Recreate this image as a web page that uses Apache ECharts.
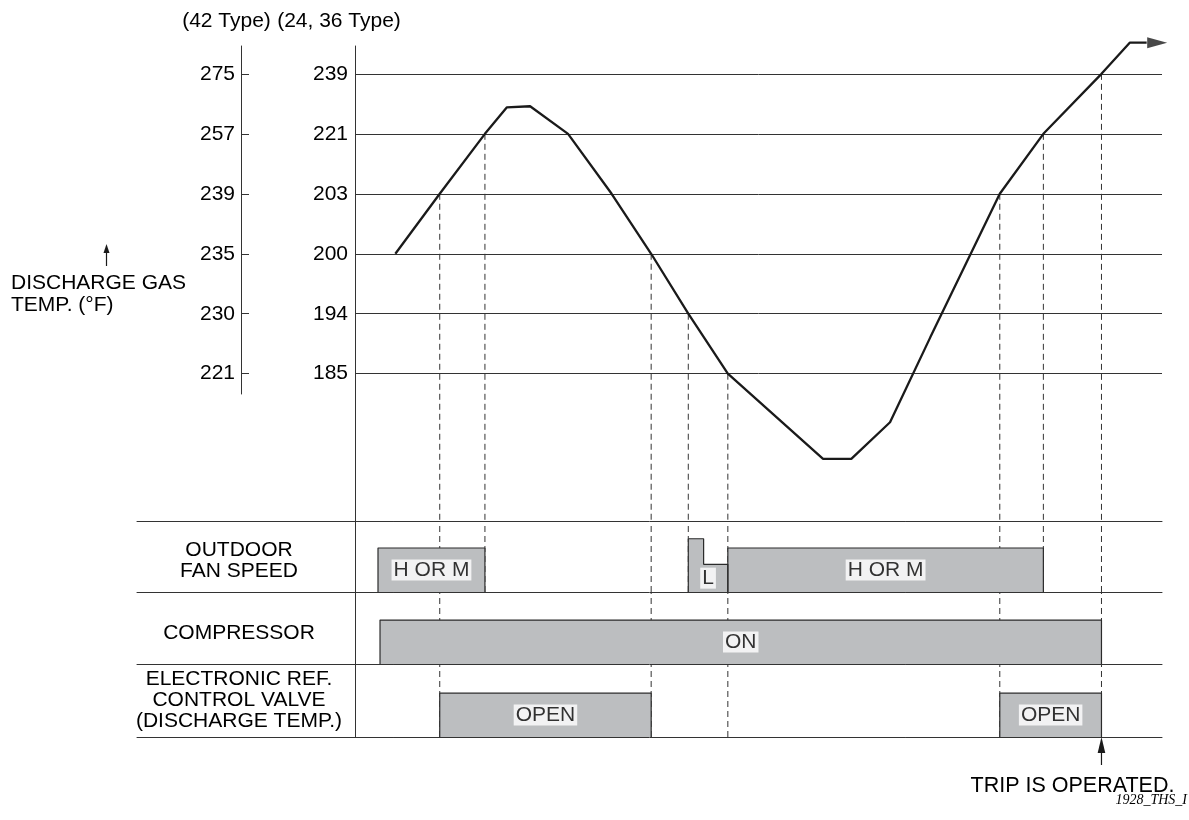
<!DOCTYPE html>
<html><head><meta charset="utf-8">
<script src="https://cdn.jsdelivr.net/npm/echarts@6/dist/echarts.min.js"></script>
<style>html,body{margin:0;padding:0;background:#fff}#c{width:1189px;height:820px}</style>
</head><body><div id="c"></div>
<script>
// ---------------- data ----------------
// discharge temperature levels: index 0..5 on the scale
const mainTickLabels = ['185', '194', '200', '203', '221', '239'];   // 24, 36 Type
const altTickLabels  = ['221', '230', '235', '239', '257', '275'];   // 42 Type
// time axis in arbitrary units 0..100, temperature in scale levels
const curveTime  = [5.0, 10.5, 16.1, 18.8, 21.7, 26.4, 31.8, 36.7, 41.3, 46.2, 58.0, 61.5, 66.3, 71.3, 79.9, 85.3, 92.5, 96.0, 98.1];
const curveLevel = [2, 3, 4, 4.44, 4.46, 4, 3, 2, 1, 0, -1.42, -1.42, -0.81, 0.61, 3, 4, 5, 5.52, 5.52];
const arrowHeadPoint = [99.4, 5.52];
// switching events (dashed guides): time, level on curve, last row reached
const eventTime    = [10.5, 16.1, 36.7, 41.3, 46.2, 79.9, 85.3, 92.5];
const eventLevel   = [3, 4, 2, 1, 0, 3, 4, 5];
const eventLastRow = [2, 0, 2, 0, 2, 2, 0, 2];
// state rows: [block, start, end, state level]
const rowNames = ['OUTDOOR\nFAN SPEED', 'COMPRESSOR', 'ELECTRONIC REF.\nCONTROL VALVE\n(DISCHARGE TEMP.)'];
const fanSegments = [[0, 2.85, 16.1, 0.62], [1, 41.3, 43.2, 0.75], [1, 43.2, 46.2, 0.39], [2, 46.2, 85.3, 0.62]];
const fanLabels = ['H OR M', 'L', 'H OR M'];
const compressorSegments = [[0, 3.1, 92.5, 0.61]];
const compressorLabels = ['ON'];
const valveSegments = [[0, 10.5, 36.7, 0.60], [1, 79.9, 92.5, 0.60]];
const valveLabels = ['OPEN', 'OPEN'];
const tripTime = 92.5;

// ---------------- layout ----------------
const FONT = "'Liberation Sans', Arial, Helvetica, sans-serif";
const INK = '#1a1a1a', RULE = '#333333', BOX = '#bcbec0';
const PLOT_LEFT = 355, PLOT_RIGHT = 1162, ROW_LEFT = 137, ALT_LEFT = 241;
const PX_PER_T = (PLOT_RIGHT - PLOT_LEFT) / 100;
const ROW_MIN_T = -(PLOT_LEFT - ROW_LEFT) / PX_PER_T;
const TOP = 46, PLOT_BOTTOM = 521, ALT_BOTTOM = 394;
const LEVEL0_Y = 373.7, PX_PER_LEVEL = 59.97;
const yMax = (LEVEL0_Y - TOP) / PX_PER_LEVEL;
const yMin = (LEVEL0_Y - PLOT_BOTTOM) / PX_PER_LEVEL;
const altMin = (LEVEL0_Y - ALT_BOTTOM) / PX_PER_LEVEL;
const ROW_EDGES = [521, 592, 664, 737];
const ROW_LABEL_POS = [0.437, 0.43, 0.5];
const levels = mainTickLabels.map((_, i) => i);

const grids = [
  { left: PLOT_LEFT, top: TOP, width: PLOT_RIGHT - PLOT_LEFT, height: PLOT_BOTTOM - TOP },
  { left: ALT_LEFT, top: TOP, width: 10, height: ALT_BOTTOM - TOP }
];
for (let r = 0; r < 3; r++) {
  grids.push({ left: ROW_LEFT, top: ROW_EDGES[r], width: PLOT_RIGHT - ROW_LEFT, height: ROW_EDGES[r + 1] - ROW_EDGES[r] });
}
grids.forEach(g => { g.outerBoundsMode = 'none'; g.containLabel = false; });

const hiddenX = (gi, min, max) => ({ type: 'value', gridIndex: gi, min, max, show: false, axisLine: { onZero: false } });
const xAxes = [hiddenX(0, 0, 100), hiddenX(1, 0, 1)];
for (let r = 0; r < 3; r++) {
  xAxes.push({ type: 'value', gridIndex: 2 + r, min: ROW_MIN_T, max: 100, position: 'bottom',
    axisLine: { show: true, onZero: false, lineStyle: { color: RULE, width: 1 } },
    axisTick: { show: false }, axisLabel: { show: false }, splitLine: { show: false } });
}
xAxes.push({ type: 'value', gridIndex: 2, min: ROW_MIN_T, max: 100, position: 'top',
  axisLine: { show: true, onZero: false, lineStyle: { color: RULE, width: 1 } },
  axisTick: { show: false }, axisLabel: { show: false }, splitLine: { show: false } });

const yAxes = [
  { type: 'value', gridIndex: 0, min: yMin, max: yMax, position: 'left',
    name: '(24, 36 Type)', nameLocation: 'end', nameGap: 14,
    nameTextStyle: { fontSize: 21, color: '#000', fontFamily: FONT, padding: [0, 32, 0, 0] },
    axisLine: { show: true, onZero: false, lineStyle: { color: RULE, width: 1 } },
    axisTick: { show: false }, splitLine: { show: false },
    axisLabel: { customValues: levels, formatter: v => mainTickLabels[Math.round(v)], margin: 7,
      fontSize: 21, color: '#000', fontFamily: FONT } },
  { type: 'value', gridIndex: 1, min: altMin, max: yMax, position: 'left',
    name: '(42 Type)', nameLocation: 'end', nameGap: 14,
    nameTextStyle: { fontSize: 21, color: '#000', fontFamily: FONT, padding: [0, 29, 0, 0] },
    axisLine: { show: true, onZero: false, lineStyle: { color: RULE, width: 1 } },
    axisTick: { show: true, inside: true, length: 8, customValues: levels, lineStyle: { color: RULE, width: 1 } },
    splitLine: { show: false },
    axisLabel: { customValues: levels, formatter: v => altTickLabels[Math.round(v)], margin: 6,
      fontSize: 21, color: '#000', fontFamily: FONT } }
];
for (let r = 0; r < 3; r++) {
  // the row axis sits on time 0 (the plot's left edge), shifted right from the row grid's edge
  yAxes.push({ type: 'value', gridIndex: 2 + r, min: 0, max: 1, position: 'left',
    offset: -(PLOT_LEFT - ROW_LEFT),
    axisLine: { show: true, onZero: false, lineStyle: { color: RULE, width: 1 } },
    axisTick: { show: false }, splitLine: { show: false },
    axisLabel: { customValues: [ROW_LABEL_POS[r]], formatter: () => rowNames[r], margin: 116, align: 'center',
      fontSize: 21, lineHeight: 21, color: '#000', fontFamily: FONT } });
}

function dashedSeries(xi, yi, items) {
  return {
    type: 'custom', xAxisIndex: xi, yAxisIndex: yi, z: 1, silent: true, clip: false,
    data: items,
    renderItem: (params, api) => {
      const p1 = api.coord([api.value(0), api.value(1)]);
      const p2 = api.coord([api.value(0), api.value(2)]);
      return { type: 'line', shape: { x1: p1[0], y1: p1[1], x2: p2[0], y2: p2[1] },
        style: { stroke: RULE, lineWidth: 1, lineDash: [6, 4] } };
    }
  };
}

const series = [];
// discharge temperature curve with level rules
series.push({
  type: 'line', xAxisIndex: 0, yAxisIndex: 0, z: 10, clip: false, silent: true,
  data: curveTime.map((t, i) => [t, curveLevel[i]]),
  symbol: 'none', lineStyle: { color: INK, width: 2.3 },
  markLine: { silent: true, symbol: ['none', 'none'], label: { show: false },
    lineStyle: { color: RULE, width: 1, type: 'solid' },
    data: levels.map(l => ({ yAxis: l })) }
});
series.push({
  type: 'scatter', xAxisIndex: 0, yAxisIndex: 0, z: 11, clip: false, silent: true,
  data: [arrowHeadPoint], symbol: 'triangle', symbolSize: [11, 20], symbolRotate: -90,
  itemStyle: { color: INK }
});
series.push(dashedSeries(0, 0, eventTime.map((t, i) => [t, eventLevel[i], yMin])));

const rowSegs = [fanSegments, compressorSegments, valveSegments];
const rowLabels = [fanLabels, compressorLabels, valveLabels];
for (let r = 0; r < 3; r++) {
  const xi = 2 + r, yi = 2 + r;
  series.push(dashedSeries(xi, yi,
    eventTime.filter((t, i) => eventLastRow[i] >= r).map(t => [t, 0, 1])));
  const blocks = {};
  rowSegs[r].forEach(s => { (blocks[s[0]] = blocks[s[0]] || []).push(s); });
  const labelData = [];
  Object.keys(blocks).forEach(k => {
    const segs = blocks[k];
    const pts = [[segs[0][1], 0]];
    segs.forEach(s => { pts.push([s[1], s[3]], [s[2], s[3]]); });
    pts.push([segs[segs.length - 1][2], 0]);
    series.push({
      type: 'line', xAxisIndex: xi, yAxisIndex: yi, z: 5, silent: true,
      data: pts, symbol: 'none',
      lineStyle: { color: '#2b2b2b', width: 1.2 },
      areaStyle: { color: BOX, opacity: 1 }
    });
    const mid = (segs[0][1] + segs[segs.length - 1][2]) / 2;
    const lo = Math.min(...segs.map(s => s[3]));
    labelData.push({ name: rowLabels[r][+k], value: [mid, lo / 2] });
  });
  series.push({
    type: 'scatter', xAxisIndex: xi, yAxisIndex: yi, z: 6, silent: true,
    data: labelData, symbolSize: 1, itemStyle: { color: 'rgba(0,0,0,0)' },
    label: { show: true, position: 'inside', formatter: '{b}', fontSize: 21, fontFamily: FONT,
      color: '#000', backgroundColor: '#fff', padding: [1, 2, 0, 2], lineHeight: 20 }
  });
}
// trip marker below the valve row
series.push({
  type: 'custom', xAxisIndex: 4, yAxisIndex: 4, z: 7, silent: true, clip: false,
  data: [[tripTime, 0]],
  renderItem: (params, api) => {
    const p = api.coord([api.value(0), api.value(1)]);
    return { type: 'group', children: [
      { type: 'polygon', shape: { points: [[p[0] - 3.8, p[1] + 16], [p[0], p[1]], [p[0] + 3.8, p[1] + 16]] }, style: { fill: INK } },
      { type: 'line', shape: { x1: p[0], y1: p[1] + 12, x2: p[0], y2: p[1] + 28 }, style: { stroke: INK, lineWidth: 1.2 } },
      { type: 'text', x: p[0] - 29, y: p[1] + 49, style: { text: 'TRIP IS OPERATED.', fontSize: 21.5, fontFamily: FONT,
        fill: '#000', align: 'center', verticalAlign: 'middle' } }
    ] };
  }
});

const option = {
  backgroundColor: '#fff',
  animation: false,
  title: [
    { text: 'DISCHARGE GAS\nTEMP. (°F)', left: 11, top: 272, padding: 0,
      textStyle: { fontSize: 21, lineHeight: 22, fontWeight: 'normal', color: '#000', fontFamily: FONT } },
    { text: '1928_THS_I', right: 2, top: 793, padding: 0,
      textStyle: { fontSize: 14, fontStyle: 'italic', fontWeight: 'normal', color: '#000', fontFamily: "'Liberation Serif', 'Times New Roman', serif" } }
  ],
  graphic: [
    { type: 'line', shape: { x1: 106.5, y1: 250, x2: 106.5, y2: 266 }, style: { stroke: INK, lineWidth: 1.2 } },
    { type: 'polygon', shape: { points: [[103.5, 253], [106.5, 244], [109.5, 253]] }, style: { fill: INK } }
  ],
  grid: grids,
  xAxis: xAxes,
  yAxis: yAxes,
  series: series
};
const chart = echarts.init(document.getElementById('c'), null, { renderer: 'canvas' });
chart.setOption(option);
</script></body></html>
